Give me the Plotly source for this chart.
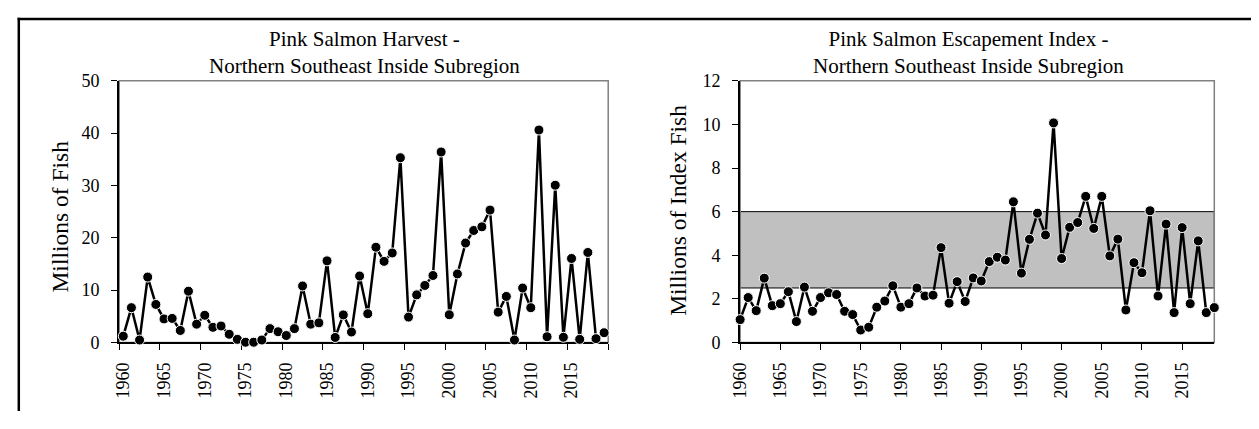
import plotly.graph_objects as go

years = list(range(1960, 2020))

harvest = [1.2, 6.65, 0.47, 12.5, 7.27, 4.5, 4.6, 2.3, 9.8, 3.5,
           5.2, 2.9, 3.15, 1.57, 0.6, 0.05, 0.05, 0.47, 2.65, 2.05,
           1.33, 2.65, 10.8, 3.5, 3.75, 15.6, 0.96, 5.27, 2.0, 12.7,
           5.5, 18.2, 15.5, 17.1, 35.3, 4.85, 9.1, 10.9, 12.8, 36.4,
           5.3, 13.1, 19.0, 21.4, 22.1, 25.3, 5.8, 8.8, 0.47, 10.4,
           6.65, 40.6, 1.1, 30.05, 1.0, 16.05, 0.6, 17.2, 0.73, 1.87]

escapement = [1.05, 2.06, 1.46, 2.95, 1.69, 1.78, 2.33, 0.96, 2.54, 1.43,
              2.06, 2.28, 2.20, 1.43, 1.28, 0.57, 0.70, 1.62, 1.90, 2.60,
              1.62, 1.78, 2.50, 2.13, 2.17, 4.35, 1.80, 2.79, 1.88, 2.96,
              2.82, 3.71, 3.91, 3.78, 6.45, 3.18, 4.73, 5.93, 4.93, 10.07,
              3.85, 5.28, 5.50, 6.70, 5.23, 6.70, 3.97, 4.74, 1.49, 3.66,
              3.20, 6.04, 2.13, 5.43, 1.37, 5.27, 1.78, 4.66, 1.37, 1.60]

goal_low = 2.5
goal_high = 6.0

label_years = [1960, 1965, 1970, 1975, 1980, 1985, 1990, 1995, 2000, 2005, 2010, 2015]
harvest_yticks = [0, 10, 20, 30, 40, 50]
esc_yticks = [0, 2, 4, 6, 8, 10, 12]

title_left = "Pink Salmon Harvest -<br>Northern Southeast Inside Subregion"
title_right = "Pink Salmon Escapement Index -<br>Northern Southeast Inside Subregion"
ytitle_left = "Millions of Fish"
ytitle_right = "Millions of Index Fish"

# page is 1259x429; the browser's default 8px body margin surrounds the figure
OFF = 8
W, H = 1259 - 2 * OFF, 429 - 2 * OFF
FONT = "Liberation Serif, Times New Roman, serif"

def px_x(p):
    return (p - OFF) / W

def px_y(p):
    return (H - (p - OFF)) / H

fig = go.Figure()

marker = dict(symbol="circle", size=10, color="black", line=dict(color="white", width=1))
fig.add_trace(go.Scatter(x=years, y=harvest, mode="lines+markers",
                         line=dict(color="black", width=2.5), marker=marker,
                         cliponaxis=False, xaxis="x", yaxis="y", showlegend=False))
fig.add_trace(go.Scatter(x=years, y=escapement, mode="lines+markers",
                         line=dict(color="black", width=2.5), marker=marker,
                         cliponaxis=False, xaxis="x2", yaxis="y2", showlegend=False))

ydom = [px_y(349), px_y(74)]
tickfont = dict(family=FONT, size=18, color="black")

# left chart: categories between tick marks
left_tickvals = [y - 0.5 for y in label_years] + [years[-1] + 0.5]
left_ticktext = [str(y) for y in label_years] + [""]

common = dict(ticks="outside", ticklen=6, tickcolor="black", showline=True,
              linecolor="black", showgrid=False, zeroline=False, tickfont=tickfont,
              layer="below traces")

fig.update_layout(
    width=W, height=H,
    margin=dict(l=0, r=0, t=0, b=0),
    paper_bgcolor="white", plot_bgcolor="white",
    xaxis=dict(domain=[px_x(110), px_x(603)], range=[years[0] - 0.5, years[-1] + 0.5],
               tickvals=left_tickvals, ticktext=left_ticktext, tickangle=-90,
               ticklabelshift=4, ticklabelstandoff=5, linewidth=1.5, anchor="y", **common),
    yaxis=dict(domain=ydom, range=[0, 50], tickvals=harvest_yticks,
               linewidth=2, anchor="x", ticklabelstandoff=8, **common),
    xaxis2=dict(domain=[px_x(736), px_x(1214)], range=[years[0], years[-1]],
                tickvals=label_years, tickangle=-90, linewidth=1.5,
                ticklabelstandoff=5, anchor="y2", **common),
    yaxis2=dict(domain=ydom, range=[0, 12], tickvals=esc_yticks,
                linewidth=2, anchor="x2", ticklabelstandoff=8, **common),
)

shapes = [
    # goal band
    dict(type="rect", xref="x2 domain", yref="y2", x0=0, x1=1, y0=goal_low, y1=goal_high,
         fillcolor="#c0c0c0", line=dict(color="black", width=1), layer="below"),
    # plot frames
    dict(type="rect", xref="x domain", yref="y domain", x0=0, x1=1, y0=0, y1=1,
         line=dict(color="#808080", width=1.5), layer="below"),
    dict(type="rect", xref="x2 domain", yref="y2 domain", x0=0, x1=1, y0=0, y1=1,
         line=dict(color="#808080", width=1.5), layer="below"),
    # outer frame: left and top edges (others lie beyond the window)
    dict(type="line", xref="paper", yref="paper", x0=px_x(8.8), x1=px_x(8.8),
         y0=0, y1=px_y(7.8), line=dict(color="black", width=2.5), layer="above"),
    dict(type="line", xref="paper", yref="paper", x0=px_x(7.6), x1=1,
         y0=px_y(9), y1=px_y(9), line=dict(color="black", width=2.5), layer="above"),
]
fig.update_layout(shapes=shapes)

annotations = [
    dict(text=title_left, xref="paper", yref="paper", x=px_x(357), y=px_y(44.5),
         xanchor="center", yanchor="middle", showarrow=False,
         font=dict(family=FONT, size=21, color="black")),
    dict(text=title_right, xref="paper", yref="paper", x=px_x(966), y=px_y(44.5),
         xanchor="center", yanchor="middle", showarrow=False,
         font=dict(family=FONT, size=21, color="black")),
    dict(text=ytitle_left, xref="paper", yref="paper", x=px_x(50), y=px_y(217),
         xanchor="center", yanchor="middle", showarrow=False, textangle=-90,
         font=dict(family=FONT, size=23.5, color="black")),
    dict(text=ytitle_right, xref="paper", yref="paper", x=px_x(674), y=px_y(210),
         xanchor="center", yanchor="middle", showarrow=False, textangle=-90,
         font=dict(family=FONT, size=23.5, color="black")),
]
fig.update_layout(annotations=annotations)

fig.write_html("out.html")
